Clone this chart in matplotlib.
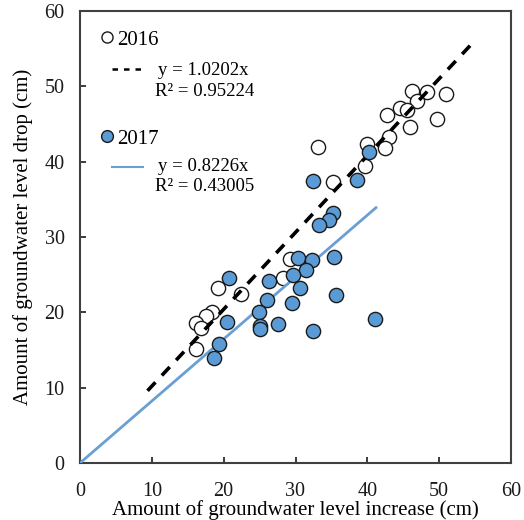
import matplotlib.pyplot as plt
import numpy as np

plt.rcParams['font.family'] = ['Liberation Serif', 'DejaVu Serif']

# 2016 observations (increase, drop)
x2016 = [46.2, 48.3, 50.9, 46.9, 44.6, 45.5, 42.7, 49.7, 46.0, 43.0, 40.0, 42.5,
         33.2, 39.7, 35.2, 29.2, 28.3, 19.2, 22.4, 18.4, 17.6, 16.2, 16.9, 16.2]
y2016 = [49.4, 49.2, 49.0, 48.0, 47.1, 46.8, 46.2, 45.6, 44.6, 43.3, 42.3, 41.8,
         42.0, 39.4, 37.3, 27.1, 24.6, 23.2, 22.5, 20.1, 19.5, 18.6, 17.9, 15.1]

# 2017 observations
x2017 = [40.3, 38.6, 32.5, 35.2, 34.6, 33.3, 35.4, 30.3, 32.3, 31.5, 29.7, 26.3, 20.8,
         30.6, 26.1, 29.5, 35.7, 24.9, 20.4, 25.0, 25.0, 27.6, 32.5, 41.0, 19.4, 18.7]
y2017 = [41.3, 37.6, 37.4, 33.2, 32.3, 31.6, 27.4, 27.2, 26.9, 25.6, 25.0, 24.1, 24.6,
         23.2, 21.7, 21.3, 22.3, 20.0, 18.7, 18.2, 17.8, 18.5, 17.5, 19.1, 15.8, 13.9]

slope2016, r2_2016 = 1.0202, 0.95224
slope2017, r2_2017 = 0.8226, 0.43005
fit2016_x = [9.4, 54.5]
fit2017_x = [0, 41.2]

blue = '#5b9bd5'
fig = plt.figure(figsize=(5.24, 5.20), dpi=100)
ax = fig.add_axes([80/524, 1 - 463/520, 431/524, 452/520])

ax.plot(fit2016_x, [slope2016 * v for v in fit2016_x], color='black', lw=2.6,
        dashes=(3.2, 2.6), zorder=3)
ax.plot(fit2017_x, [slope2017 * v for v in fit2017_x], color='#6a9fd4', lw=2.0, zorder=3)
ax.scatter(x2016, y2016, s=105, facecolor='white', edgecolor='#1a1a1a', lw=1.0, zorder=2)
ax.scatter(x2017, y2017, s=105, facecolor=blue, edgecolor='#1a1a1a', lw=1.0, zorder=4)

ax.set_xlim(0, 60)
ax.set_ylim(0, 60)
ax.set_xticks(range(0, 61, 10))
ax.set_yticks(range(0, 61, 10))
ax.tick_params(direction='in', length=4, width=1.2, labelsize=14.5, colors='#1a1a1a')
ax.tick_params(axis='y', pad=11)
ax.tick_params(axis='x', pad=14)
for sp in ax.spines.values():
    sp.set_color('#404040')
    sp.set_linewidth(1.5)

ax.set_xlabel('Amount of groundwater level increase (cm)', fontsize=15)
ax.set_ylabel('Amount of groundwater level drop (cm)', fontsize=15)
ax.xaxis.set_label_coords(0.5, -0.083)
ax.yaxis.set_label_coords(-0.108, 0.5)

# hand-made legend
tr = ax.transAxes
ax.plot([0.063], [0.942], 'o', ms=8, mfc='white', mec='#1a1a1a', mew=1.0, transform=tr)
ax.text(0.086, 0.935, '2016', fontsize=15, va='center', transform=tr)
ax.plot([0.074, 0.146], [0.872, 0.872], color='black', lw=1.8, dashes=(2.2, 2.4), transform=tr)
ax.text(0.286, 0.868, 'y = %.4fx' % slope2016, fontsize=13.5, ha='center', va='center', transform=tr)
ax.text(0.288, 0.823, 'R² = %.5f' % r2_2016, fontsize=13.5, ha='center', va='center', transform=tr)

ax.plot([0.063], [0.723], 'o', ms=8.5, mfc=blue, mec='#1a1a1a', mew=1.0, transform=tr)
ax.text(0.086, 0.716, '2017', fontsize=15, va='center', transform=tr)
ax.plot([0.074, 0.146], [0.655, 0.655], color='#6a9fd4', lw=1.5, transform=tr)
ax.text(0.286, 0.655, 'y = %.4fx' % slope2017, fontsize=13.5, ha='center', va='center', transform=tr)
ax.text(0.288, 0.611, 'R² = %.5f' % r2_2017, fontsize=13.5, ha='center', va='center', transform=tr)

fig.savefig('out.png', dpi=100)
